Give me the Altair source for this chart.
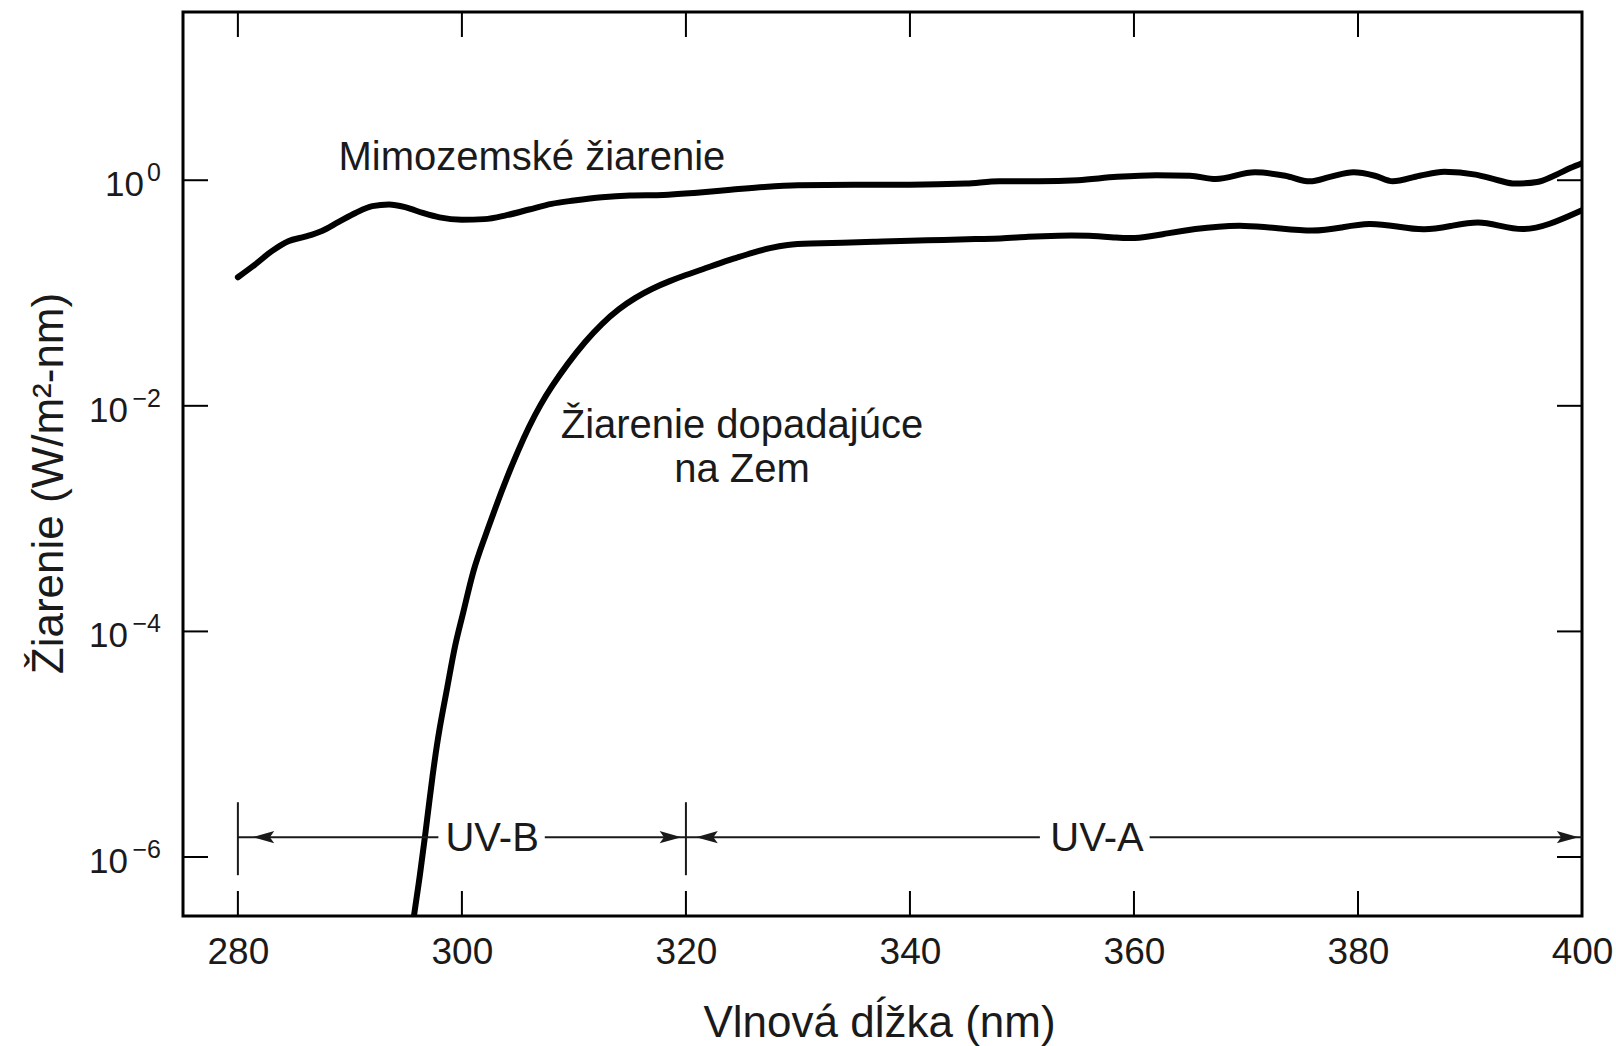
import altair as alt
import pandas as pd

# ---------------- data ----------------
wl_extra = [280.0, 281.5, 283.0, 284.5, 286.0, 287.5, 289.0, 290.5, 292.0, 293.5,
            295.0, 296.5, 298.0, 300.0, 302.0, 304.0, 306.0, 308.0, 310.0, 312.5,
            315.0, 318.0, 321.0, 324.0, 327.0, 330.0, 335.0, 340.0, 345.0, 348.0,
            351.5, 355.0, 358.5, 362.0, 365.0, 367.3, 370.8, 373.5, 375.7, 377.5,
            379.6, 381.5, 383.1, 385.5, 387.7, 390.5, 392.5, 394.0, 396.0, 397.5,
            399.0, 400.0]
irr_extra = [0.138, 0.178, 0.234, 0.288, 0.316, 0.355, 0.427, 0.513, 0.589, 0.610,
             0.575, 0.513, 0.468, 0.447, 0.452, 0.490, 0.550, 0.617, 0.661, 0.708,
             0.733, 0.741, 0.776, 0.822, 0.871, 0.902, 0.912, 0.912, 0.933, 0.977,
             0.977, 1.000, 1.072, 1.109, 1.096, 1.023, 1.175, 1.096, 0.977, 1.072,
             1.175, 1.096, 0.977, 1.096, 1.189, 1.122, 1.000, 0.933, 0.966, 1.096,
             1.288, 1.413]

wl_ground = [295.6, 296.2, 296.7, 297.4, 298.0, 298.7, 299.4, 300.1, 301.0, 302.0,
             303.0, 304.0, 305.0, 306.0, 307.0, 308.0, 309.4, 311.0, 312.5, 314.0,
             315.5, 317.0, 318.5, 320.0, 321.5, 323.0, 324.5, 326.0, 327.5, 329.0,
             331.0, 334.0, 337.0, 340.0, 343.0, 346.0, 348.0, 350.5, 353.3, 356.0,
             358.5, 360.3, 363.0, 365.6, 367.5, 369.8, 372.5, 376.1, 378.5, 381.0,
             383.5, 385.9, 388.5, 390.8, 392.5, 394.7, 397.0, 400.0]
irr_ground = [2.5e-7, 6.3e-7, 1.48e-6, 5.6e-6, 1.41e-5, 3.16e-5, 7.9e-5, 1.41e-4, 3.55e-4, 6.6e-4,
              1.26e-3, 2.29e-3, 3.98e-3, 6.6e-3, 0.0102, 0.0148, 0.0234, 0.0372, 0.0537, 0.0724,
              0.0912, 0.110, 0.127, 0.145, 0.162, 0.184, 0.205, 0.229, 0.251, 0.269,
              0.275, 0.279, 0.285, 0.292, 0.295, 0.302, 0.302, 0.316, 0.324, 0.324,
              0.309, 0.302, 0.339, 0.372, 0.389, 0.398, 0.380, 0.347, 0.380, 0.422,
              0.389, 0.355, 0.398, 0.434, 0.398, 0.355, 0.398, 0.542]

x_ticks = [280, 300, 320, 340, 360, 380, 400]
y_ticks = [1.0, 1e-2, 1e-4, 1e-6]
y_tick_base = ["10", "10", "10", "10"]
y_tick_exp = ["0", "\u22122", "\u22124", "\u22126"]

curve_labels = ["Mimozemské žiarenie", "Žiarenie dopadajúce", "na Zem"]
curve_label_x = [306.25, 325.0, 325.0]
curve_label_y = [1.23, 0.00516, 0.0021]

band_names = ["UV-B", "UV-A"]
band_label_x = [302.7, 356.7]
band_y = 1.5e-6
band_seg_start = [280.0, 307.4, 320.0, 361.4]
band_seg_end = [297.9, 320.0, 351.6, 400.0]
band_bounds = [280.0, 320.0]
band_bound_lo = 6.9e-7
band_bound_hi = 3.06e-6
arrow_right_x = [319.6, 399.7]
arrow_left_x = [281.3, 320.9]

# ---------------- layout ----------------
W, H = 1399, 904
FONT = "Liberation Sans"
INK = "#1a1a1a"
xs = alt.Scale(domain=[275.1, 400.0], nice=False, zero=False)
ys = alt.Scale(type="log", domain=[3.0e-7, 31.0], nice=False)

df_extra = pd.DataFrame({"wl": wl_extra, "irr": irr_extra})
df_ground = pd.DataFrame({"wl": wl_ground, "irr": irr_ground})

x_axis = alt.Axis(
    values=x_ticks, ticks=False, tickSize=0, domain=False, grid=False,
    labelFont=FONT, labelFontSize=37, labelColor=INK, labelPadding=47,
    labelBaseline="alphabetic", labelFlush=False, labelOverlap=False,
    title="Vlnová dĺžka (nm)", titleFont=FONT, titleFontSize=44,
    titleFontWeight="normal", titleColor=INK, titleY=120, titleX=696,
    titleBaseline="alphabetic", titleAlign="center",
)
y_axis = alt.Axis(
    values=y_ticks, ticks=False, tickSize=0, domain=False, grid=False,
    labels=False,
    title="Žiarenie (W/m²-nm)", titleFont=FONT, titleFontSize=44,
    titleFontWeight="normal", titleColor=INK, titleX=-121, titleY=471,
    titleAngle=270, titleBaseline="alphabetic", titleAlign="center",
)

line_extra = alt.Chart(df_extra).mark_line(
    color="black", strokeWidth=6, interpolate="monotone", clip=True, strokeCap="round"
).encode(
    x=alt.X("wl:Q", scale=xs, axis=x_axis),
    y=alt.Y("irr:Q", scale=ys, axis=y_axis),
)
line_ground = alt.Chart(df_ground).mark_line(
    color="black", strokeWidth=6, interpolate="basis", clip=True, strokeCap="round"
).encode(
    x=alt.X("wl:Q", scale=xs, axis=None),
    y=alt.Y("irr:Q", scale=ys, axis=None),
)

# y tick labels as 10 with a raised exponent
df_ylab = pd.DataFrame({"v": y_ticks, "b": y_tick_base, "e": y_tick_exp})
ybase_pos = alt.Chart(df_ylab).transform_filter("datum.e == '0'").mark_text(
    font=FONT, fontSize=35, color=INK, align="right", baseline="alphabetic", dy=16
).encode(y=alt.Y("v:Q", scale=ys, axis=None), x=alt.value(-39), text="b:N")
ybase_neg = alt.Chart(df_ylab).transform_filter("datum.e != '0'").mark_text(
    font=FONT, fontSize=35, color=INK, align="right", baseline="alphabetic", dy=16
).encode(y=alt.Y("v:Q", scale=ys, axis=None), x=alt.value(-55), text="b:N")
yexp = alt.Chart(df_ylab).mark_text(
    font=FONT, fontSize=25, color=INK, align="right", baseline="alphabetic", dy=1
).encode(y=alt.Y("v:Q", scale=ys, axis=None), x=alt.value(-22), text="e:N")

# inward ticks on all four sides
df_xt = pd.DataFrame({"v": [t for t in x_ticks if t < 400]})
df_yt = pd.DataFrame({"v": y_ticks})
TL = 25
tick_top = alt.Chart(df_xt).mark_rule(color="black", strokeWidth=2).encode(
    x=alt.X("v:Q", scale=xs, axis=None), y=alt.value(0), y2=alt.value(TL))
tick_bot = alt.Chart(df_xt).mark_rule(color="black", strokeWidth=2).encode(
    x=alt.X("v:Q", scale=xs, axis=None), y=alt.value(H), y2=alt.value(H - TL))
tick_left = alt.Chart(df_yt).mark_rule(color="black", strokeWidth=2).encode(
    y=alt.Y("v:Q", scale=ys, axis=None), x=alt.value(0), x2=alt.value(TL))
tick_right = alt.Chart(df_yt).mark_rule(color="black", strokeWidth=2).encode(
    y=alt.Y("v:Q", scale=ys, axis=None), x=alt.value(W), x2=alt.value(W - TL))

# UV band annotation
df_seg = pd.DataFrame({"a": band_seg_start, "b": band_seg_end, "y": [band_y] * 4})
segs = alt.Chart(df_seg).mark_rule(color=INK, strokeWidth=2).encode(
    x=alt.X("a:Q", scale=xs, axis=None), x2="b:Q",
    y=alt.Y("y:Q", scale=ys, axis=None))
df_bnd = pd.DataFrame({"x": band_bounds, "lo": [band_bound_lo] * 2, "hi": [band_bound_hi] * 2})
bounds = alt.Chart(df_bnd).mark_rule(color=INK, strokeWidth=2).encode(
    x=alt.X("x:Q", scale=xs, axis=None),
    y=alt.Y("lo:Q", scale=ys, axis=None), y2="hi:Q")

RIGHT = "M0,0 L-1,-0.28 L-0.8,0 L-1,0.28 Z"
LEFT = "M0,0 L1,-0.28 L0.8,0 L1,0.28 Z"
df_ar = pd.DataFrame({"x": arrow_right_x, "y": [band_y] * 2})
df_al = pd.DataFrame({"x": arrow_left_x, "y": [band_y] * 2})
arr_r = alt.Chart(df_ar).mark_point(shape=RIGHT, filled=True, size=1900, color=INK,
                                    opacity=1, strokeWidth=0).encode(
    x=alt.X("x:Q", scale=xs, axis=None), y=alt.Y("y:Q", scale=ys, axis=None))
arr_l = alt.Chart(df_al).mark_point(shape=LEFT, filled=True, size=1900, color=INK,
                                    opacity=1, strokeWidth=0).encode(
    x=alt.X("x:Q", scale=xs, axis=None), y=alt.Y("y:Q", scale=ys, axis=None))

df_band = pd.DataFrame({"x": band_label_x, "y": [band_y] * 2, "t": band_names})
band_txt = alt.Chart(df_band).mark_text(font=FONT, fontSize=40, color=INK,
                                        align="center", baseline="middle", dy=2).encode(
    x=alt.X("x:Q", scale=xs, axis=None), y=alt.Y("y:Q", scale=ys, axis=None), text="t:N")

df_lab = pd.DataFrame({"x": curve_label_x, "y": curve_label_y, "t": curve_labels})
lab_txt = alt.Chart(df_lab).mark_text(font=FONT, fontSize=40, color=INK,
                                      align="center", baseline="alphabetic").encode(
    x=alt.X("x:Q", scale=xs, axis=None), y=alt.Y("y:Q", scale=ys, axis=None), text="t:N")

chart = alt.layer(
    line_extra, line_ground, tick_top, tick_bot, tick_left, tick_right,
    segs, bounds, arr_r, arr_l, band_txt, lab_txt, ybase_pos, ybase_neg, yexp,
).resolve_axis(
    x="independent", y="independent"
).properties(
    width=W, height=H,
    padding={"left": 183, "top": 12, "right": 34, "bottom": 130},
    autosize=alt.AutoSizeParams(type="none"),
    background="white",
).configure_view(stroke="black", strokeWidth=3)

chart.save("out.html", embed_options={"renderer": "svg", "actions": False})
